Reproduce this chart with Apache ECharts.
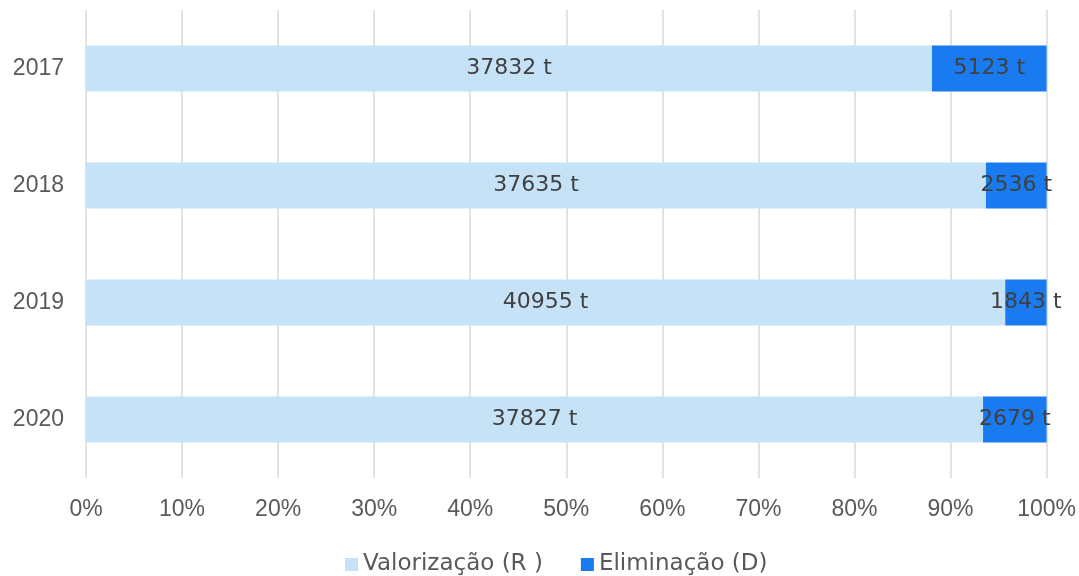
<!DOCTYPE html>
<html>
<head>
<meta charset="utf-8">
<script src="https://cdn.jsdelivr.net/npm/echarts@6/dist/echarts.min.js"></script>
<style>html,body{margin:0;padding:0;background:#fff;}#c{width:1079px;height:576px;}</style>
</head>
<body>
<div id="c"></div>
<script>
const categories = ['2017', '2018', '2019', '2020'];
const valorizacao = [37832, 37635, 40955, 37827];
const eliminacao = [5123, 2536, 1843, 2679];
const seriesNames = ['Valorização (R )', 'Eliminação (D)'];
const tickLabels = ['0%', '10%', '20%', '30%', '40%', '50%', '60%', '70%', '80%', '90%', '100%'];

const totals = categories.map((_, i) => valorizacao[i] + eliminacao[i]);
const pct = arr => arr.map((v, i) => v / totals[i] * 100);
const raw = [valorizacao, eliminacao];

const FONT = 'Liberation Sans';
const FONT2 = 'DejaVu Sans';
const chart = echarts.init(document.getElementById('c'));
const mkSeries = (k, color) => ({
  name: seriesNames[k],
  type: 'bar',
  stack: 'total',
  barWidth: 46,
  data: pct(raw[k]),
  itemStyle: { color: color },
  label: {
    show: true,
    position: 'inside',
    fontFamily: FONT2,
    fontSize: 22,
    color: '#404040',
    formatter: p => raw[k][p.dataIndex] + ' t'
  },
  emphasis: { disabled: true }
});
chart.setOption({
  animation: false,
  textStyle: { fontFamily: FONT },
  grid: { left: 86, right: 32, top: 10, bottom: 98, containLabel: false },
  legend: {
    top: 548,
    left: 340,
    itemWidth: 13,
    itemHeight: 13,
    itemGap: 38,
    itemTextGap: 6,
    icon: 'rect',
    textStyle: { fontFamily: FONT2, fontSize: 23, color: '#595959' },
    data: seriesNames
  },
  xAxis: {
    type: 'value',
    min: 0,
    max: 100,
    interval: 10,
    axisLine: { show: false },
    axisTick: { show: false },
    splitLine: { show: true, lineStyle: { color: '#d9d9d9', width: 1.5 } },
    axisLabel: {
      margin: 20,
      fontFamily: FONT,
      fontSize: 23,
      color: '#595959',
      formatter: v => tickLabels[Math.round(v / 10)]
    }
  },
  yAxis: {
    type: 'category',
    data: categories,
    inverse: true,
    axisLine: { show: false },
    axisTick: { show: false },
    axisLabel: { margin: 22, fontFamily: FONT, fontSize: 23, color: '#595959' }
  },
  series: [mkSeries(0, '#c5e2f6'), mkSeries(1, '#1a7af0')]
});
</script>
</body>
</html>
